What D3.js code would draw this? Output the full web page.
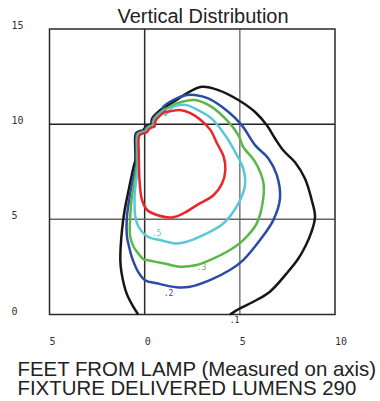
<!DOCTYPE html>
<html>
<head>
<meta charset="utf-8">
<script src="https://cdn.jsdelivr.net/npm/d3@7"></script>
<style>
  body { margin: 0; background: #fff; }
  svg { display: block; }
</style>
</head>
<body>
<div id="chart"></div>
<script>
// Canvas
const width = 380,
  height = 401

// axis ticks
const xTicks = [-5, 0, 5, 10]
const xTickLabels = ['5', '0', '5', '10']
const yTicks = [0, 5, 10, 15]
const yTickLabels = ['0', '5', '10', '15']

// iso-lux levels
const levels = ['.1', '.2', '.3', '.5', '1']
const levelColors = ['#161616', '#2c4ba6', '#5bb747', '#5cc6da', '#ea2629']

// shared ragged edge near the lamp (feet)
const edge = [[-0.49, 8.64], [-0.46, 9.52], [-0.25, 9.64], [-0.07, 9.69], [0.05, 9.86], [0.19, 9.95],
  [0.33, 9.99], [0.37, 10.22], [0.45, 10.39], [0.63, 10.57], [0.89, 10.79]]

// contour .1 (open, runs off the bottom)
const lux01 = [[-0.34, 0], [-0.6, 0.41], [-0.95, 1.11], [-1.21, 2.16], [-1.28, 2.86], [-1.19, 4.44],
  [-1.05, 5.49], [-0.84, 6.54], [-0.58, 7.76], [-0.49, 8.1]].concat(edge).concat([
  [1.24, 11.0], [1.68, 11.27], [2.21, 11.62], [3.0, 11.96], [3.87, 11.79], [4.92, 11.27], [5.8, 10.64],
  [6.41, 9.95], [6.85, 9.25], [7.3, 8.6], [7.9, 8.0], [8.42, 7.14], [8.78, 6.0], [8.95, 5.14],
  [8.75, 4.3], [8.45, 3.6], [8.05, 2.9], [7.46, 2.16], [6.58, 1.2], [5.71, 0.67], [5.01, 0.32], [4.48, 0]])

// contour .2
const lux02 = [[0.98, 10.91], [1.5, 11.27], [2.21, 11.53], [2.64, 11.53], [3.34, 11.35], [4.39, 10.65],
  [5.1, 9.95], [5.8, 8.9], [6.5, 8.2], [6.94, 7.33], [7.11, 6.1], [6.76, 4.96], [6.06, 3.91], [5.18, 2.86],
  [4.48, 2.34], [3.43, 1.81], [2.38, 1.46], [1.68, 1.43], [0.63, 1.64], [0.02, 1.8], [-0.34, 2.24],
  [-0.68, 3.03], [-0.84, 3.65], [-0.93, 4.09], [-0.93, 5.14], [-0.76, 6.35], [-0.58, 7.24], [-0.46, 7.76]]

// contour .3
const lux03 = [[1.16, 10.83], [1.68, 11.09], [2.64, 11.27], [3.52, 10.91], [4.39, 10.13], [4.92, 9.43],
  [5.18, 8.8], [5.8, 8.02], [6.23, 6.97], [6.23, 6.1], [5.89, 4.79], [5.18, 3.91], [4.48, 3.39], [3.43, 2.86],
  [2.73, 2.6], [1.85, 2.51], [1.16, 2.65], [0.11, 2.86], [-0.04, 2.89], [-0.34, 3.21], [-0.58, 3.56],
  [-0.76, 4.09], [-0.76, 5.14], [-0.67, 6.19], [-0.49, 7.24], [-0.4, 7.94]]

// contour .5
const lux05 = [[1.07, 10.48], [1.5, 10.91], [2.21, 11.0], [2.64, 10.82], [3.52, 10.29], [4.22, 9.43],
  [4.75, 8.55], [5.18, 7.66], [5.27, 6.79], [4.92, 5.83], [4.13, 4.78], [3.26, 4.26], [2.21, 3.82],
  [1.68, 3.73], [0.8, 3.91], [0.38, 4.0], [0.03, 4.18], [-0.32, 4.61], [-0.49, 5.14], [-0.53, 6.19],
  [-0.49, 6.71], [-0.35, 7.76]]

// contour 1
const lux1 = [[1.16, 10.65], [1.85, 10.74], [2.4, 10.58], [2.93, 10.23], [3.45, 9.7], [3.8, 9.0],
  [4.15, 8.29], [4.24, 7.59], [4.07, 6.89], [3.63, 6.28], [2.75, 5.75], [2.05, 5.32], [1.44, 5.1],
  [0.65, 5.23], [0.13, 5.49], [-0.14, 6.02], [-0.26, 6.89], [-0.3, 7.94]]

// where the level labels sit
const labelPos = [[4.72, -0.32], [1.25, 1.12], [2.98, 2.5], [0.62, 4.25]]

let svg = d3.select('#chart')
  .append('svg')
  .attr('width', width)
  .attr('height', height)

const x = d3.scaleLinear().domain([-5, 10]).range([49.5, 335])
const y = d3.scaleLinear().domain([0, 15]).range([314.5, 29])

// grid
svg.selectAll('.gx')
  .data([0, 5])
  .enter()
  .append('line')
  .attr('x1', d => x(d)).attr('x2', d => x(d))
  .attr('y1', y(0)).attr('y2', y(15))
  .attr('stroke', (d, i) => i === 0 ? '#2a2a2a' : '#7a7a7a')
  .attr('stroke-width', 1.5)

svg.selectAll('.gy')
  .data([5, 10])
  .enter()
  .append('line')
  .attr('x1', x(-5)).attr('x2', x(10))
  .attr('y1', d => y(d)).attr('y2', d => y(d))
  .attr('stroke', (d, i) => i === 0 ? '#666' : '#222')
  .attr('stroke-width', 1.5)

svg.append('rect')
  .attr('x', x(-5)).attr('y', y(15))
  .attr('width', x(10) - x(-5)).attr('height', y(0) - y(15))
  .attr('fill', 'none')
  .attr('stroke', '#2a2a2a')
  .attr('stroke-width', 1.5)

// contours
const shift = (pts, k) => pts.map(p => [p[0] + 0.045 * k, p[1] - 0.03 * k])

const line = d3.line()
  .x(d => x(d[0])).y(d => y(d[1]))
  .curve(d3.curveCatmullRom.alpha(0.5))
const loop = d3.line()
  .x(d => x(d[0])).y(d => y(d[1]))
  .curve(d3.curveCatmullRomClosed.alpha(0.5))

svg.append('path')
  .attr('d', line(lux01))
  .attr('fill', 'none')
  .attr('stroke', levelColors[0])
  .attr('stroke-width', 2.5)

const loops = [lux02, lux03, lux05, lux1]
loops.forEach((pts, i) => {
  const k = i + 1
  const ring = shift(edge, k).concat(pts)
  svg.append('path')
    .attr('d', loop(ring))
    .attr('fill', 'none')
    .attr('stroke', levelColors[k])
    .attr('stroke-width', 2.5)
})

// level labels
svg.selectAll('.lvl')
  .data(labelPos)
  .enter()
  .append('text')
  .attr('x', d => x(d[0]))
  .attr('y', d => y(d[1]))
  .attr('dy', '0.35em')
  .attr('text-anchor', 'middle')
  .attr('font-family', 'DejaVu Sans Mono, monospace')
  .attr('font-size', 8)
  .attr('fill', (d, i) => levelColors[i])
  .text((d, i) => levels[i])

// tick labels
svg.selectAll('.xt')
  .data(xTicks)
  .enter()
  .append('text')
  .attr('x', d => x(d))
  .attr('y', 344.5)
  .attr('font-family', 'DejaVu Sans Mono, monospace')
  .attr('font-size', 10)
  .attr('fill', '#333')
  .text((d, i) => xTickLabels[i])

svg.selectAll('.yt')
  .data(yTicks)
  .enter()
  .append('text')
  .attr('x', 11.5)
  .attr('y', d => y(d))
  .attr('font-family', 'DejaVu Sans Mono, monospace')
  .attr('font-size', 10)
  .attr('fill', '#333')
  .text((d, i) => yTickLabels[i])

// titles
svg.append('text')
  .attr('x', 203)
  .attr('y', 22.7)
  .attr('text-anchor', 'middle')
  .attr('font-family', 'Liberation Sans, Arial, sans-serif')
  .attr('font-size', 20)
  .attr('fill', '#222')
  .text('Vertical Distribution')

const footer = ['FEET FROM LAMP (Measured on axis)', 'FIXTURE DELIVERED LUMENS 290']
svg.selectAll('.ft')
  .data(footer)
  .enter()
  .append('text')
  .attr('x', 17.5)
  .attr('y', (d, i) => 376 + i * 19)
  .attr('font-family', 'Liberation Sans, Arial, sans-serif')
  .attr('font-size', 20.4)
  .attr('fill', '#222')
  .text(d => d)
</script>
</body>
</html>
